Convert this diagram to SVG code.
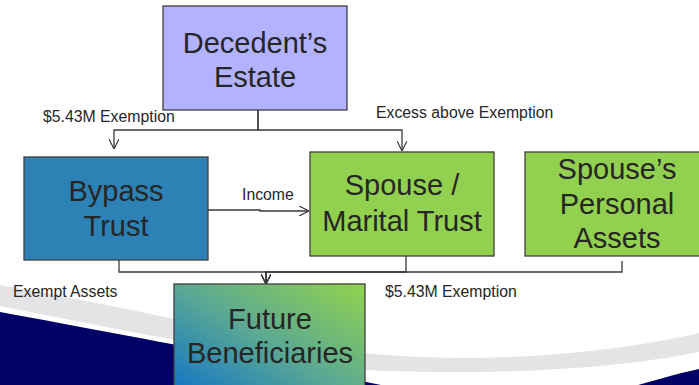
<svg xmlns="http://www.w3.org/2000/svg" width="699" height="385" viewBox="0 0 699 385">
  <defs>
    <style>
      .box { stroke: #3f3f3f; stroke-width: 1.3; }
      .big { font-family: "Liberation Sans", Arial, sans-serif; font-size: 29px; fill: #262626; text-anchor: middle; }
      .lbl { font-family: "Liberation Sans", Arial, sans-serif; font-size: 15.8px; fill: #262626; }
      .conn { fill: none; stroke: #3a3a3a; stroke-width: 1.3; }
    </style>
    <marker id="arr" viewBox="0 0 10 10" refX="10" refY="5" markerWidth="10" markerHeight="10" markerUnits="userSpaceOnUse" orient="auto">
      <path d="M0,0 L10,5 L0,10" fill="none" stroke="#3a3a3a" stroke-width="1.2"/>
    </marker>
    <linearGradient id="fut" x1="0" y1="1" x2="1" y2="0">
      <stop offset="0" stop-color="#0a6fcc"/>
      <stop offset="0.5" stop-color="#5aa894"/>
      <stop offset="1" stop-color="#92d34c"/>
    </linearGradient>
  </defs>

  <rect width="699" height="385" fill="#ffffff"/>

  <g id="background">
    <path d="M0,285 C120,305 260,340 365,353 C470,364 600,356 699,333 L699,352 C600,372 470,375 365,370 C260,358 120,330 0,306 Z" fill="#e3e4e6"/>
    <path d="M0,312 C130,336 300,368 415,392 L0,392 Z" fill="#000066"/>
    <path d="M628,388 C655,380 680,373 699,369 L699,388 Z" fill="#000066"/>
  </g>

  <g id="decedent">
    <rect class="box" x="163" y="6" width="184" height="104" fill="#b2b2ff"/>
    <text class="big" x="255" y="53">Decedent’s</text>
    <text class="big" x="255" y="87">Estate</text>
  </g>

  <g id="bypass">
    <rect class="box" x="24" y="157" width="184" height="103" fill="#2d82b5"/>
    <text class="big" x="116" y="201">Bypass</text>
    <text class="big" x="116" y="236">Trust</text>
  </g>

  <g id="marital">
    <rect class="box" x="310" y="152" width="184" height="104" fill="#92d050"/>
    <text class="big" x="402" y="195">Spouse /</text>
    <text class="big" x="402" y="231">Marital Trust</text>
  </g>

  <g id="personal">
    <rect class="box" x="525" y="152" width="184" height="104" fill="#92d050"/>
    <text class="big" x="617" y="179">Spouse’s</text>
    <text class="big" x="617" y="214">Personal</text>
    <text class="big" x="617" y="248">Assets</text>
  </g>

  <g id="future">
    <rect class="box" x="174" y="284" width="191" height="120" fill="url(#fut)"/>
    <text class="big" x="270" y="329">Future</text>
    <text class="big" x="270" y="363">Beneficiaries</text>
  </g>

  <g id="connectors">
    <path class="conn" d="M258,110 V130 H114 V149" marker-end="url(#arr)"/>
    <path class="conn" d="M258,110 V130 H402 V151" marker-end="url(#arr)"/>
    <path class="conn" d="M208,210 H260 V211 H309" marker-end="url(#arr)"/>
    <path class="conn" d="M119,260 V272 H266 V284" marker-end="url(#arr)"/>
    <path class="conn" d="M406,256 V272 H266 V284" marker-end="url(#arr)"/>
    <path class="conn" d="M622,261 V272 H266 V284" marker-end="url(#arr)"/>
  </g>

  <g id="labels">
    <text class="lbl" x="43" y="122">$5.43M Exemption</text>
    <text class="lbl" x="376" y="118">Excess above Exemption</text>
    <text class="lbl" x="242" y="200">Income</text>
    <text class="lbl" x="13" y="297">Exempt Assets</text>
    <text class="lbl" x="385" y="297">$5.43M Exemption</text>
  </g>
</svg>
